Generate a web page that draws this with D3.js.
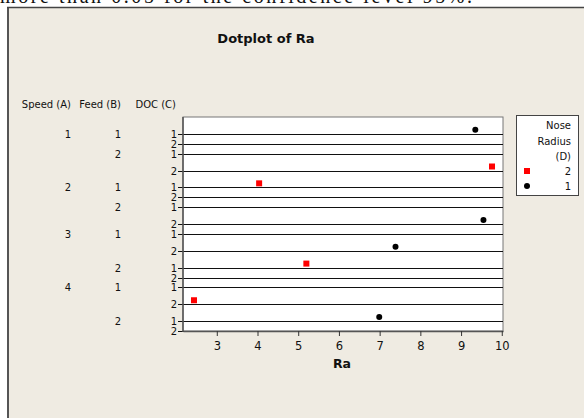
<!DOCTYPE html>
<html>
<head>
<meta charset="utf-8">
<script src="https://cdn.jsdelivr.net/npm/d3@7"></script>
<style>
  body { margin: 0; background: #fff; }
  svg { display: block; }
  text { font-family: "DejaVu Sans", Tahoma, sans-serif; fill: #111; }
</style>
</head>
<body>
<svg id="chart" width="584" height="418"></svg>
<script>
// factor levels (rows of the dotplot, top to bottom)
const speedLevels = ["1", "2", "3", "4"];
const feedLevels = ["1", "2"];
const docLevels = ["1", "2"];

// observations
const pointSpeed = ["1", "1", "2", "2", "3", "3", "4", "4"];
const pointFeed = ["1", "2", "1", "2", "1", "2", "1", "2"];
const pointDoc = ["1", "2", "1", "2", "2", "1", "2", "1"];
const noseRadius = ["1", "2", "2", "1", "1", "2", "2", "1"];
const raValues = [9.35, 9.76, 4.04, 9.55, 7.39, 5.20, 2.44, 6.99];

const xTicks = [3, 4, 5, 6, 7, 8, 9, 10];
const legendLevels = ["2", "1"];

const W = 584, H = 418;
const plot = { left: 183, right: 503, top: 117, bottom: 331 };

const svg = d3.select("#chart");

// cut-off line of document text above the figure
svg.append("text")
    .attr("x", 0).attr("y", 3)
    .attr("textLength", 472).attr("lengthAdjust", "spacing")
    .style("font-family", "'Liberation Serif', 'Times New Roman', serif")
    .style("font-size", "20px")
    .text("more than 0.05 for the confidence level 95%.");

// graph window
svg.append("rect")
    .attr("x", 7).attr("y", 7).attr("width", W).attr("height", H)
    .attr("fill", "#efebe2");
svg.append("line").attr("x1", 8).attr("x2", 8).attr("y1", 7).attr("y2", H)
    .attr("stroke", "#555").attr("stroke-width", 2);
svg.append("line").attr("x1", 7).attr("x2", W).attr("y1", 7.5).attr("y2", 7.5)
    .attr("stroke", "#444").attr("stroke-width", 1.5);

svg.append("text")
    .attr("x", 266).attr("y", 43)
    .attr("text-anchor", "middle")
    .style("font-size", "13px").style("font-weight", "bold")
    .text("Dotplot of Ra");

// rows
const rows = [];
speedLevels.forEach(a => feedLevels.forEach(b => docLevels.forEach(c => {
    const n = pointSpeed.filter((s, i) => s === a && pointFeed[i] === b && pointDoc[i] === c).length;
    rows.push({ a, b, c, n });
})));

// rows holding dots get more room
let cum = 0;
rows.forEach(r => { cum += r.n > 0 ? 1.7 : 1; r.cum = cum; });
const y = d3.scaleLinear().domain([0, cum]).range([plot.top, plot.bottom]);
const x = d3.scaleLinear().domain([2.17, 10.03]).range([plot.left, plot.right]);

svg.append("rect")
    .attr("x", plot.left).attr("y", plot.top)
    .attr("width", plot.right - plot.left).attr("height", plot.bottom - plot.top)
    .attr("fill", "#fff").attr("stroke", "#777").attr("stroke-width", 1);

svg.append("g").selectAll("line")
    .data(rows)
    .enter()
    .append("line")
    .attr("x1", plot.left - 5).attr("x2", plot.right)
    .attr("y1", d => Math.round(y(d.cum)) + 0.5)
    .attr("y2", d => Math.round(y(d.cum)) + 0.5)
    .attr("stroke", "#111").attr("stroke-width", 1);

svg.append("line")
    .attr("x1", plot.left).attr("x2", plot.left)
    .attr("y1", plot.top).attr("y2", plot.bottom + 1)
    .attr("stroke", "#555").attr("stroke-width", 1.5);

// row labels
const rowLabels = svg.append("g").style("font-size", "10px");
rowLabels.selectAll("text.doc")
    .data(rows).enter().append("text")
    .attr("class", "doc")
    .attr("x", 177).attr("y", d => y(d.cum) + 4)
    .attr("text-anchor", "end")
    .text(d => d.c);
rowLabels.selectAll("text.feed")
    .data(rows.filter(r => r.c === docLevels[0])).enter().append("text")
    .attr("class", "feed")
    .attr("x", 121).attr("y", d => y(d.cum) + 4)
    .attr("text-anchor", "end")
    .text(d => d.b);
rowLabels.selectAll("text.speed")
    .data(rows.filter(r => r.b === feedLevels[0] && r.c === docLevels[0])).enter().append("text")
    .attr("class", "speed")
    .attr("x", 71).attr("y", d => y(d.cum) + 4)
    .attr("text-anchor", "end")
    .text(d => d.a);

const headers = [["Speed (A)", 71], ["Feed (B)", 121], ["DOC (C)", 176]];
rowLabels.selectAll("text.head")
    .data(headers).enter().append("text")
    .attr("class", "head")
    .attr("x", d => d[1]).attr("y", 108)
    .attr("text-anchor", "end")
    .text(d => d[0]);

// x axis
const xAxis = svg.append("g")
    .attr("transform", `translate(0,${plot.bottom})`)
    .call(d3.axisBottom(x).tickValues(xTicks).tickSize(5).tickSizeOuter(0));
xAxis.select(".domain").attr("stroke", "#555").attr("stroke-width", 1.5);
xAxis.selectAll(".tick line").attr("stroke", "#333");
xAxis.selectAll(".tick text")
    .style("font-family", "'DejaVu Sans', Tahoma, sans-serif")
    .style("font-size", "11.5px").attr("fill", "#111").attr("dy", "0.95em");

svg.append("text")
    .attr("x", 342).attr("y", 368)
    .attr("text-anchor", "middle")
    .style("font-size", "12.5px").style("font-weight", "bold")
    .text("Ra");

// points
const pts = raValues.map((v, i) => {
    const r = rows.find(r => r.a === pointSpeed[i] && r.b === pointFeed[i] && r.c === pointDoc[i]);
    return { v, nose: noseRadius[i], yy: y(r.cum) - 4 };
});

const drawMarker = (sel, nose) => {
    if (nose === "2") {
        sel.append("rect").attr("x", -3).attr("y", -3).attr("width", 6).attr("height", 6).attr("fill", "#ff0000");
    } else {
        sel.append("circle").attr("r", 3).attr("fill", "#000");
    }
};

svg.append("g").selectAll("g")
    .data(pts).enter().append("g")
    .attr("transform", d => `translate(${x(d.v)},${d.yy})`)
    .each(function (d) { drawMarker(d3.select(this), d.nose); });

// legend
const leg = svg.append("g");
leg.append("rect")
    .attr("x", 516.5).attr("y", 115.5).attr("width", 62).attr("height", 80)
    .attr("fill", "#fff").attr("stroke", "#444").attr("stroke-width", 1);
["Nose", "Radius", "(D)"].forEach((t, i) => {
    leg.append("text")
        .attr("x", 571).attr("y", 129 + i * 15.5)
        .attr("text-anchor", "end")
        .style("font-size", "10px")
        .text(t);
});
legendLevels.forEach((lv, i) => {
    const yy = 171 + i * 15;
    leg.append("text")
        .attr("x", 571).attr("y", yy + 4)
        .attr("text-anchor", "end")
        .style("font-size", "10px")
        .text(lv);
    drawMarker(leg.append("g").attr("transform", `translate(527,${yy})`), lv);
});
</script>
</body>
</html>
